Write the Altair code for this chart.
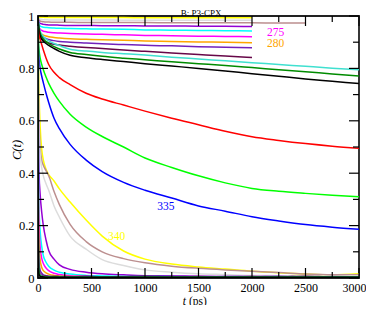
import altair as alt
import pandas as pd

# time grid (ps)
T = [0, 2, 5, 10, 20, 35, 50, 75, 100, 150, 200, 300, 450, 600, 800, 1000,
     1250, 1500, 1750, 2000, 2250, 2500, 2750, 3000]

# slow sets (stop at 2000 ps, brown at 2500 ps)
c_yellow_top = [1, 0.998, 0.997, 0.996, 0.995, 0.995, 0.995, 0.994, 0.994, 0.994, 0.994, 0.994,
                0.994, 0.994, 0.994, 0.993, 0.993, 0.993, 0.993, 0.993]
c_grey_top = [1, 0.995, 0.992, 0.99, 0.988, 0.987, 0.986, 0.986, 0.985, 0.985, 0.985, 0.985,
              0.985, 0.985, 0.984, 0.984, 0.984, 0.984, 0.984, 0.984]
c_brown_top = [1, 0.993, 0.988, 0.984, 0.981, 0.979, 0.978, 0.977, 0.977, 0.976, 0.976, 0.976,
               0.975, 0.975, 0.975, 0.975, 0.974, 0.974, 0.974, 0.974, 0.973, 0.973]
c_violet_top = [1, 0.99, 0.982, 0.977, 0.972, 0.97, 0.968, 0.967, 0.966, 0.966, 0.965, 0.964,
                0.964, 0.963, 0.963, 0.962, 0.962, 0.961, 0.961, 0.96]
c_cyan_top = [1, 0.985, 0.975, 0.968, 0.962, 0.959, 0.957, 0.956, 0.955, 0.954, 0.953, 0.952,
              0.951, 0.95, 0.949, 0.947, 0.946, 0.945, 0.944, 0.943]
c_magenta_top = [1, 0.98, 0.968, 0.958, 0.95, 0.945, 0.942, 0.94, 0.938, 0.936, 0.935, 0.933,
                 0.931, 0.93, 0.928, 0.926, 0.925, 0.923, 0.922, 0.921]
c_orange_top = [1, 0.978, 0.962, 0.948, 0.937, 0.931, 0.927, 0.924, 0.921, 0.918, 0.916, 0.913,
                0.911, 0.909, 0.907, 0.905, 0.903, 0.901, 0.9, 0.898]
c_indigo_top = [1, 0.975, 0.958, 0.943, 0.93, 0.923, 0.918, 0.914, 0.91, 0.906, 0.903, 0.9,
                0.897, 0.894, 0.891, 0.888, 0.886, 0.883, 0.881, 0.879]
c_maroon_top = [1, 0.972, 0.952, 0.935, 0.92, 0.911, 0.905, 0.901, 0.897, 0.892, 0.889, 0.885,
                0.88, 0.876, 0.87, 0.865, 0.859, 0.853, 0.847, 0.842]

# intermediate sets (to 3000 ps)
c_turq = [1, 0.985, 0.972, 0.958, 0.943, 0.93, 0.922, 0.912, 0.905, 0.895, 0.887, 0.873,
          0.866, 0.861, 0.856, 0.851, 0.843, 0.836, 0.829, 0.822, 0.815, 0.808, 0.801, 0.795]
c_dgreen = [1, 0.983, 0.968, 0.952, 0.935, 0.92, 0.912, 0.902, 0.895, 0.883, 0.874, 0.861,
            0.853, 0.846, 0.839, 0.833, 0.825, 0.818, 0.811, 0.803, 0.795, 0.787, 0.779, 0.771]
c_black = [1, 0.98, 0.962, 0.943, 0.925, 0.912, 0.904, 0.895, 0.888, 0.876, 0.865, 0.85,
           0.841, 0.834, 0.826, 0.818, 0.809, 0.8, 0.79, 0.78, 0.77, 0.76, 0.751, 0.742]
c_red = [1, 0.965, 0.94, 0.925, 0.91, 0.89, 0.87, 0.84, 0.815, 0.785, 0.765, 0.738,
         0.705, 0.683, 0.66, 0.637, 0.61, 0.585, 0.56, 0.539, 0.525, 0.513, 0.503, 0.495]
c_green = [1, 0.94, 0.9, 0.87, 0.84, 0.815, 0.795, 0.767, 0.743, 0.705, 0.674, 0.625,
           0.576, 0.54, 0.5, 0.458, 0.422, 0.39, 0.363, 0.342, 0.331, 0.323, 0.316, 0.31]
c_blue = [1, 0.92, 0.87, 0.835, 0.8, 0.77, 0.745, 0.705, 0.67, 0.61, 0.57, 0.51,
          0.45, 0.406, 0.365, 0.335, 0.305, 0.275, 0.255, 0.234, 0.218, 0.204, 0.194, 0.186]

# fast sets
c_yellow = [1, 0.9, 0.8, 0.7, 0.58, 0.49, 0.45, 0.415, 0.395, 0.37, 0.34, 0.29,
            0.221, 0.16, 0.103, 0.072, 0.053, 0.042, 0.034, 0.026, 0.02, 0.015, 0.012, 0.016]
c_brown = [1, 0.86, 0.73, 0.61, 0.5, 0.45, 0.43, 0.41, 0.39, 0.33, 0.28, 0.205,
           0.139, 0.1, 0.074, 0.058, 0.045, 0.037, 0.031, 0.026, 0.021, 0.015, 0.012, 0.012]
c_grey = [1, 0.82, 0.68, 0.56, 0.47, 0.42, 0.39, 0.36, 0.335, 0.275, 0.232, 0.16,
          0.11, 0.07, 0.048, 0.031, 0.022, 0.016, 0.013, 0.01, 0.009, 0.008, 0.007, 0.007]
c_violet = [1, 0.7, 0.52, 0.4, 0.32, 0.25, 0.2, 0.145, 0.105, 0.072, 0.05, 0.033,
            0.022, 0.016, 0.012, 0.009, 0.008, 0.007, 0.006, 0.006, 0.005, 0.005, 0.005, 0.005]
c_cyan = [1, 0.6, 0.4, 0.27, 0.18, 0.12, 0.085, 0.06, 0.045, 0.03, 0.022, 0.015,
          0.01, 0.008, 0.006, 0.006, 0.005, 0.005, 0.005, 0.004, 0.004, 0.004, 0.004, 0.004]
c_magenta = [1, 0.5, 0.3, 0.2, 0.12, 0.075, 0.055, 0.038, 0.028, 0.018, 0.013, 0.009,
             0.007, 0.005, 0.005, 0.004, 0.004, 0.004, 0.004, 0.004, 0.004, 0.004, 0.004, 0.004]
c_orange = [1, 0.4, 0.22, 0.13, 0.07, 0.04, 0.028, 0.02, 0.015, 0.01, 0.008, 0.006,
            0.005, 0.004, 0.004, 0.004, 0.003, 0.003, 0.003, 0.003, 0.003, 0.003, 0.003, 0.003]
c_indigo = [1, 0.3, 0.12, 0.06, 0.03, 0.018, 0.012, 0.009, 0.007, 0.006, 0.006, 0.005,
            0.007, 0.004, 0.006, 0.005, 0.007, 0.004, 0.006, 0.005, 0.007, 0.004, 0.006, 0.005]
c_maroon = [1, 0.25, 0.08, 0.03, 0.015, 0.01, 0.008, 0.007, 0.006, 0.006, 0.005, 0.004,
            0.006, 0.003, 0.005, 0.007, 0.004, 0.006, 0.003, 0.006, 0.004, 0.007, 0.004, 0.005]
c_turq_f = [1, 0.2, 0.06, 0.02, 0.01, 0.007, 0.006, 0.005, 0.005, 0.004, 0.004, 0.004,
            0.004, 0.004, 0.004, 0.004, 0.004, 0.004, 0.004, 0.004, 0.004, 0.004, 0.004, 0.004]
c_dgreen_f = [1, 0.18, 0.05, 0.015, 0.008, 0.006, 0.005, 0.004, 0.004, 0.004, 0.003, 0.003,
              0.003, 0.003, 0.003, 0.003, 0.003, 0.003, 0.003, 0.003, 0.003, 0.003, 0.003, 0.003]
c_black_f = [1, 0.15, 0.04, 0.012, 0.006, 0.005, 0.004, 0.003, 0.003, 0.003, 0.003, 0.003,
             0.003, 0.003, 0.003, 0.003, 0.003, 0.003, 0.003, 0.003, 0.003, 0.003, 0.003, 0.003]

series = [
    ("yellow_top", "#ffff00", c_yellow_top),
    ("grey_top", "#dcdcdc", c_grey_top),
    ("brown_top", "#bc8f8f", c_brown_top),
    ("violet_top", "#9400d3", c_violet_top),
    ("cyan_top", "#00ffff", c_cyan_top),
    ("magenta_top", "#ff00ff", c_magenta_top),
    ("orange_top", "#ffa500", c_orange_top),
    ("indigo_top", "#7221bc", c_indigo_top),
    ("maroon_top", "#670748", c_maroon_top),
    ("turq", "#40e0d0", c_turq),
    ("dgreen", "#008b00", c_dgreen),
    ("black", "#000000", c_black),
    ("red", "#ff0000", c_red),
    ("green", "#00ff00", c_green),
    ("blue", "#0000ff", c_blue),
    ("yellow", "#ffff00", c_yellow),
    ("brown", "#bc8f8f", c_brown),
    ("grey", "#dcdcdc", c_grey),
    ("violet", "#9400d3", c_violet),
    ("cyan", "#00ffff", c_cyan),
    ("magenta", "#ff00ff", c_magenta),
    ("orange", "#ffa500", c_orange),
    ("indigo", "#7221bc", c_indigo),
    ("maroon", "#670748", c_maroon),
    ("turq_f", "#40e0d0", c_turq_f),
    ("dgreen_f", "#008b00", c_dgreen_f),
    ("black_f", "#000000", c_black_f),
]

label_text = ["275", "280", "335", "340"]
label_t = [2220, 2220, 1196, 734]
label_c = [0.937, 0.892, 0.272, 0.158]
label_color = ["#ff00ff", "#ffa500", "#0000ff", "#ffff00"]

x_major = [0, 500, 1000, 1500, 2000, 2500, 3000]
x_minor = [250, 750, 1250, 1750, 2250, 2750]
y_major = [0, 0.2, 0.4, 0.6, 0.8, 1]
y_minor = [0.1, 0.3, 0.5, 0.7, 0.9]

rows = []
for i, (name, color, vals) in enumerate(series):
    for t, c in zip(T, vals):
        rows.append({"s": name, "t": t, "c": c, "k": i})
df = pd.DataFrame(rows)

W, H = 321, 262
FONT = "Liberation Serif, Times New Roman, Times, serif"
xs = alt.Scale(domain=[0, 3000], nice=False, zero=False)
ys = alt.Scale(domain=[0, 1], nice=False, zero=False)

lines = alt.Chart(df).mark_line(strokeWidth=1.5, interpolate="monotone", clip=True).encode(
    x=alt.X("t:Q", scale=xs, axis=alt.Axis(values=x_major, format="d", ticks=False, domain=False,
                                           grid=False, labelFont=FONT, labelFontSize=12,
                                           labelColor="black", labelPadding=4, labelFlush=False,
                                           labelOverlap=False, title=None,
                                           labelAlign=alt.expr("datum.value == 3000 ? 'right' : 'center'"),
                                           labelOffset=alt.expr("datum.value == 3000 ? 7 : 0"))),
    y=alt.Y("c:Q", scale=ys, axis=alt.Axis(values=y_major, format="~g", ticks=False, domain=False,
                                           grid=False, labelFont=FONT, labelFontSize=12.5,
                                           labelColor="black", labelPadding=4, labelFlush=False,
                                           labelOverlap=False, title=None)),
    color=alt.Color("s:N", scale=alt.Scale(domain=[s[0] for s in series],
                                           range=[s[1] for s in series]), legend=None),
    order=alt.Order("k:Q"),
    detail="s:N",
)

def tick_layer(vals, axis, length, side):
    d = pd.DataFrame({"v": vals})
    base = alt.Chart(d).mark_rule(color="black", strokeWidth=1.2)
    if axis == "x":
        if side == "bottom":
            return base.encode(x=alt.X("v:Q", scale=xs), y=alt.value(H), y2=alt.value(H - length))
        return base.encode(x=alt.X("v:Q", scale=xs), y=alt.value(0), y2=alt.value(length))
    if side == "left":
        return base.encode(y=alt.Y("v:Q", scale=ys), x=alt.value(0), x2=alt.value(length))
    return base.encode(y=alt.Y("v:Q", scale=ys), x=alt.value(W), x2=alt.value(W - length))

ticks = [
    tick_layer(x_major, "x", 10, "bottom"), tick_layer(x_minor, "x", 6, "bottom"),
    tick_layer(x_major, "x", 10, "top"), tick_layer(x_minor, "x", 6, "top"),
    tick_layer(y_major, "y", 10, "left"), tick_layer(y_minor, "y", 6, "left"),
    tick_layer(y_major, "y", 10, "right"), tick_layer(y_minor, "y", 6, "right"),
]

lab_df = pd.DataFrame({"text": label_text, "t": label_t, "c": label_c, "col": label_color})
labels = alt.Chart(lab_df).mark_text(font=FONT, fontSize=11.5).encode(
    x=alt.X("t:Q", scale=xs), y=alt.Y("c:Q", scale=ys), text="text:N",
    color=alt.Color("col:N", scale=None),
)

one = pd.DataFrame({"a": [0]})
title = alt.Chart(one).mark_text(font=FONT, fontSize=9, baseline="top", align="center").encode(
    x=alt.value(163), y=alt.value(-7.5), text=alt.value("B: P3-CPX"))
xt1 = alt.Chart(one).mark_text(font=FONT, fontSize=11.5, fontStyle="italic", baseline="alphabetic",
                               align="right").encode(
    x=alt.value(148), y=alt.value(288.5), text=alt.value("t"))
xt2 = alt.Chart(one).mark_text(font=FONT, fontSize=11.5, baseline="alphabetic", align="left").encode(
    x=alt.value(151), y=alt.value(288.5), text=alt.value("(ps)"))
yt = alt.Chart(one).mark_text(font=FONT, fontSize=12.5, fontStyle="italic", baseline="middle",
                              align="center", angle=270).encode(
    x=alt.value(-21), y=alt.value(134), text=alt.value("C(t)"))

chart = alt.layer(lines, *ticks, labels, title, xt1, xt2, yt).properties(
    width=W, height=H,
    autosize=alt.AutoSizeParams(type="none"),
    padding={"left": 30, "top": 8, "right": 7, "bottom": 27},
).configure_view(stroke="#222222", strokeWidth=1.8)

chart.save("out.html", embed_options={"renderer": "svg", "actions": False})
